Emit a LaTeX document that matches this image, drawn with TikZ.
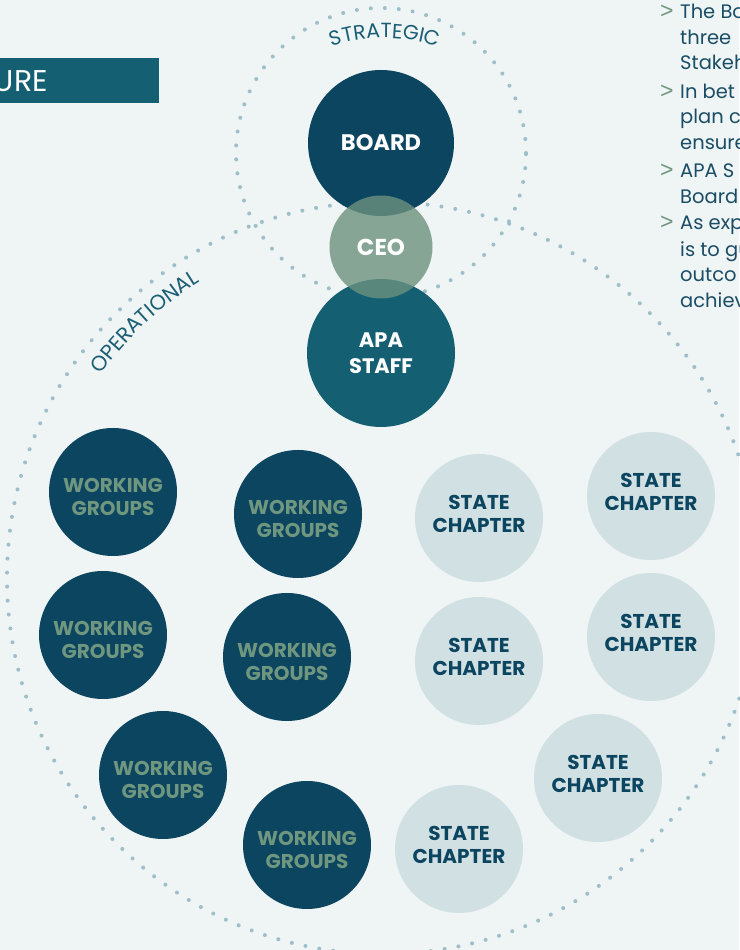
\documentclass[tikz,border=0pt]{standalone}
\usepackage{fontspec}
\setmainfont{Poppins}
\newfontfamily\gtfont{Liberation Sans}
\usetikzlibrary{decorations.text}
\definecolor{bg}{HTML}{EFF4F4}
\definecolor{navy}{HTML}{0C4560}
\definecolor{teal}{HTML}{155F73}
\definecolor{ceoc}{HTML}{6C927E}
\definecolor{scfill}{HTML}{D1E0E3}
\definecolor{sage}{HTML}{6F967F}
\definecolor{dotc}{HTML}{9DBFCA}
\definecolor{labc}{HTML}{1B5E75}
\definecolor{txtc}{HTML}{1A4D66}
\tikzset{
  dotring/.style={draw=dotc, line width=4pt, line cap=round, dash pattern=on 0pt off 14pt},
  bubble/.style={circle, inner sep=0pt, align=center, font=\fontsize{20}{23}\selectfont\bfseries},
  wgtext/.style={align=center, inner sep=0pt, text=sage, font=\fontsize{20}{23}\selectfont\bfseries},
  sctext/.style={align=center, inner sep=0pt, text=navy, font=\fontsize{20}{23}\selectfont\bfseries},
  wg/.style={circle, inner sep=0pt, fill=navy, minimum size=128pt,
    label={[wgtext, yshift=-5pt]center:WORKING\\GROUPS}},
  sc/.style={circle, inner sep=0pt, fill=scfill, minimum size=128pt,
    label={[sctext, yshift=4pt]center:STATE\\CHAPTER}},
  bodytxt/.style={anchor=base west, text=txtc, font=\fontsize{19.5}{19}\selectfont, inner sep=0pt},
  gt/.style={anchor=base west, text=sage, font=\gtfont\fontsize{23}{23}\selectfont, inner sep=0pt, yshift=0pt}
}
\begin{document}
\begin{tikzpicture}[x=1pt,y=1pt]
\useasboundingbox (0,0) rectangle (739,950);
\fill[bg] (0,0) rectangle (739,950);
% title banner
\fill[teal] (0,847) rectangle (159,892);
\node[anchor=base east, text=white, font=\fontsize{30}{30}\selectfont, inner sep=0pt] (title) at (48,858) {URE};
% dotted rings
\coordinate (sctr) at (381,797);
\coordinate (octr) at (383,372);
\draw[dotring] (sctr) circle[radius=145];
\draw[dotring] (octr) circle[radius=376];
% ring labels
\path (385,740) ++(118:172) coordinate (sa);
\path[decorate, decoration={text along path, text align=center,
  text={|\fontsize{20.5}{20}\selectfont\color{labc}|STRATEGIC}}]
  (sa) arc[start angle=118, end angle=62, radius=172];
\path (octr) ++(158:348) coordinate (oa);
\path[decorate, decoration={text along path, text align=center,
  text={|\fontsize{21}{20}\selectfont\color{labc}|OPERATIONAL}}]
  (oa) arc[start angle=158, end angle=108, radius=348];
% central circles
\node[bubble, fill=navy, text=white, minimum size=146pt, font=\fontsize{22.5}{24}\selectfont\bfseries] (board) at (381,807) {BOARD};
\node[bubble, fill=teal, text=white, minimum size=148pt, font=\fontsize{21}{26}\selectfont\bfseries] (staff) at (381,597) {APA\\STAFF};
\node[bubble, fill=ceoc, fill opacity=0.8, text opacity=1, text=white, minimum size=103pt, font=\fontsize{23}{24}\selectfont\bfseries] (ceo) at (381,703) {CEO};
% working groups
\node[wg] (wg1) at (113,458) {};
\node[wg] (wg2) at (298,436) {};
\node[wg] (wg3) at (103,315) {};
\node[wg] (wg4) at (287,293) {};
\node[wg] (wg5) at (163,175) {};
\node[wg] (wg6) at (307,105) {};
% state chapters
\node[sc] (sc1) at (479,432) {};
\node[sc] (sc2) at (651,454) {};
\node[sc] (sc3) at (479,289) {};
\node[sc] (sc4) at (651,313) {};
\node[sc] (sc5) at (598,172) {};
\node[sc] (sc6) at (459,101) {};
% right text
\node[gt] (g1) at (660,931) {>};
\node[bodytxt] (t1) at (680,931) {The Bo};
\node[bodytxt] (t2) at (680,905) {three};
\node[bodytxt] (t3) at (680,880) {Stakeh};
\node[gt] (g2) at (660,851) {>};
\node[bodytxt] (t4) at (680,851) {In bet};
\node[bodytxt] (t5) at (680,826) {plan c};
\node[bodytxt] (t6) at (680,800) {ensure};
\node[gt] (g3) at (660,772) {>};
\node[bodytxt] (t7) at (680,772) {APA S};
\node[bodytxt] (t8) at (680,746) {Board};
\node[gt] (g4) at (660,720) {>};
\node[bodytxt] (t9) at (680,720) {As exp};
\node[bodytxt] (t10) at (680,693) {is to gu};
\node[bodytxt] (t11) at (680,668) {outco};
\node[bodytxt] (t12) at (680,642) {achiev};
\end{tikzpicture}
\end{document}
